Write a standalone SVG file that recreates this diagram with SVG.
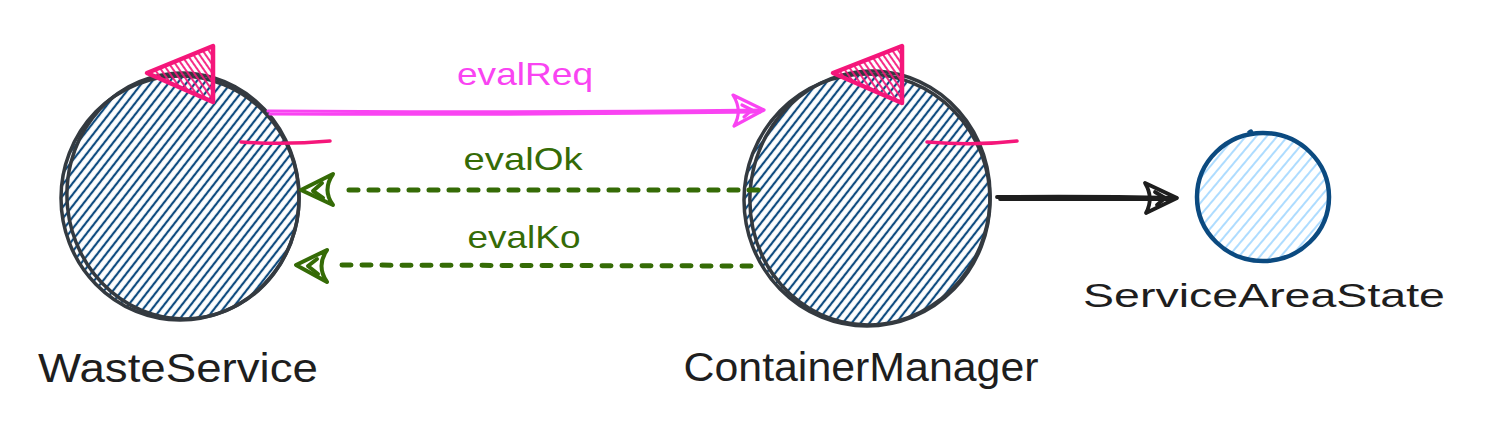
<svg xmlns="http://www.w3.org/2000/svg" width="1494" height="444" viewBox="0 0 1494 444">
<defs>
<pattern id="hatchDark" patternUnits="userSpaceOnUse" width="7" height="7" patternTransform="rotate(38)">
<line x1="2" y1="0" x2="2" y2="7" stroke="#0f4b7f" stroke-width="2.2"/>
</pattern>
<pattern id="hatchLight" patternUnits="userSpaceOnUse" width="8" height="8" patternTransform="rotate(40)">
<line x1="2" y1="0" x2="2" y2="8" stroke="#a5d8ff" stroke-width="1.8"/>
</pattern>
<pattern id="hatchPink" patternUnits="userSpaceOnUse" width="5" height="5" patternTransform="rotate(-35)">
<line x1="2" y1="0" x2="2" y2="5" stroke="#f5167a" stroke-width="1.8"/>
</pattern>
</defs>
<style>
.outline{fill:none;stroke:#343a40;stroke-width:3.5;stroke-linecap:round}
.tri{fill:url(#hatchPink);stroke:#f5167a;stroke-width:4.5;stroke-linejoin:round}
.pinkline{fill:none;stroke:#f5167a;stroke-width:3.5;stroke-linecap:round}
.label{font-family:"Liberation Sans",Arial,sans-serif;fill:#1e1e1e}
.elabel{font-family:"Liberation Sans",Arial,sans-serif;font-size:32px;text-anchor:middle}
.req{stroke:#f944f2;fill:none;stroke-width:3.2;stroke-linecap:round;stroke-linejoin:round}
.ok{stroke:#356b06;fill:none;stroke-width:4;stroke-linecap:round;stroke-linejoin:round}
.dash{stroke-width:5;stroke-dasharray:9 11}
.blk{stroke:#1e1e1e;fill:none;stroke-width:3.8;stroke-linecap:round;stroke-linejoin:round}
</style>

<g id="WasteService">
<ellipse cx="180" cy="198" rx="118" ry="121" fill="url(#hatchDark)"/>
<ellipse class="outline" cx="180" cy="198" rx="119" ry="122"/>
<ellipse class="outline" cx="183" cy="196" rx="116" ry="123" transform="rotate(-6 183 196)"/>
<polygon class="tri" points="147,73 213,46 213,102"/>
<path class="pinkline" d="M241,142 Q285,145 330,141"/>
<text class="label" x="178" y="382" font-size="40" text-anchor="middle" textLength="280" lengthAdjust="spacingAndGlyphs">WasteService</text>
</g>

<g id="ContainerManager">
<ellipse cx="867" cy="200" rx="122" ry="125" fill="url(#hatchDark)"/>
<ellipse class="outline" cx="867" cy="200" rx="123" ry="126"/>
<ellipse class="outline" cx="870" cy="198" rx="120" ry="127" transform="rotate(8 870 198)"/>
<polygon class="tri" points="833,73 902,46 902,103"/>
<path class="pinkline" d="M927,142 Q975,146 1017,141"/>
<text class="label" x="861" y="381" font-size="40" text-anchor="middle" textLength="355" lengthAdjust="spacingAndGlyphs">ContainerManager</text>
</g>

<g id="ServiceAreaState">
<ellipse cx="1263" cy="197" rx="65" ry="63" fill="url(#hatchLight)"/>
<ellipse cx="1263" cy="197" rx="66" ry="64" fill="none" stroke="#0b4a80" stroke-width="4.5"/>
<path d="M1248,133 Q1252,128 1252,134" fill="none" stroke="#0b4a80" stroke-width="3"/>
<text class="label" x="1264" y="307" font-size="33" text-anchor="middle" textLength="362" lengthAdjust="spacingAndGlyphs">ServiceAreaState</text>
</g>

<g id="connectors">
<g id="evalReq">
<path class="req" d="M268,111 Q500,113 762,110"/>
<path class="req" d="M270,114 Q520,115 760,112"/>
<path class="req" d="M733,95 L764,110 L734,126 Q743,111 733,95 Z"/>
<path class="req" d="M742,105 L752,110 L744,117"/>
<text class="elabel" x="525" y="85" fill="#f944f2" textLength="136" lengthAdjust="spacingAndGlyphs">evalReq</text>
</g>
<g id="evalOk">
<path class="ok dash" d="M758,190 L340,190"/>
<path class="ok" d="M333,174 L301,190 L333,205 Q322,190 333,174 Z"/>
<path class="ok" d="M322,183 L313,191 L323,198"/>
<text class="elabel" x="523" y="170" fill="#356b06" textLength="119" lengthAdjust="spacingAndGlyphs">evalOk</text>
</g>
<g id="evalKo">
<path class="ok dash" d="M751,266 L332,265"/>
<path class="ok" d="M327,250 L296,265 L327,282 Q316,266 327,250 Z"/>
<path class="ok" d="M317,259 L308,266 L318,274"/>
<text class="elabel" x="524" y="248" fill="#356b06" textLength="113" lengthAdjust="spacingAndGlyphs">evalKo</text>
</g>
<g id="toState">
<path class="blk" d="M997,197 Q1090,196 1176,198"/>
<path class="blk" d="M1000,199 Q1080,199 1170,199"/>
<path class="blk" d="M1145,183 L1177,198 L1146,213 Q1154,198 1145,183 Z"/>
<path class="blk" d="M1155,192 L1165,198 L1157,205"/>
</g>
</g>
</svg>
